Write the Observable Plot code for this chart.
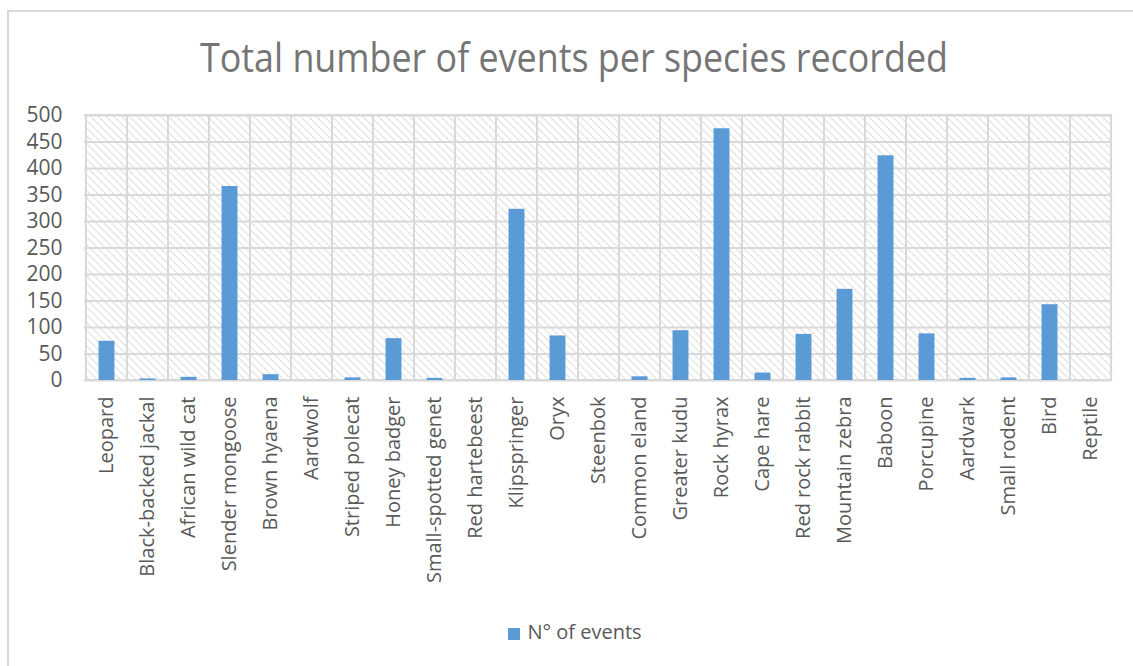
<!DOCTYPE html>
<html>
<head>
<meta charset="utf-8">
<script src="https://cdn.jsdelivr.net/npm/d3@7"></script>
<script src="https://cdn.jsdelivr.net/npm/@observablehq/plot@0.6"></script>
<style>
  html, body { margin: 0; padding: 0; background: #fff; width: 1133px; height: 666px; overflow: hidden; }
  #frame { position: absolute; left: 7px; top: 10px; width: 1140px; height: 670px; border-left: 2px solid #d9d9d9; border-top: 2px solid #d9d9d9; box-sizing: border-box; }
  #title { position: absolute; left: 0; top: 0; width: 1148px; height: 95px; text-align: center; font-family: "Open Sans", sans-serif; font-size: 40px; color: #757575; line-height: 1; }
  #title span { display: inline-block; position: absolute; top: 37px; left: 574px; white-space: nowrap; transform-origin: 0 0; }
  #chart { position: absolute; left: 0; top: 95px; }
  #legend { position: absolute; top: 618px; left: 0; width: 1150px; text-align: center; font-family: "Open Sans", sans-serif; font-size: 20px; color: #595959; }
  #legend .sw { display: inline-block; width: 12px; height: 12px; background: #5B9BD5; margin-right: 7px; vertical-align: -1px; }
</style>
</head>
<body>
<div id="frame"></div>
<div id="title"><span id="tspan">Total number of events per species recorded</span></div>
<div id="chart"></div>
<div id="legend"><span class="sw"></span>N° of events</div>
<script>
const species = ["Leopard","Black-backed jackal","African wild cat","Slender mongoose","Brown hyaena","Aardwolf","Striped polecat","Honey badger","Small-spotted genet","Red hartebeest","Klipspringer","Oryx","Steenbok","Common eland","Greater kudu","Rock hyrax","Cape hare","Red rock rabbit","Mountain zebra","Baboon","Porcupine","Aardvark","Small rodent","Bird","Reptile"];
const events = [74, 3, 6, 366, 11, 0, 5, 79, 4, 0, 323, 84, 0, 7, 94, 475, 14, 87, 172, 424, 88, 4, 5, 143, 0];
const yTicks = [0, 50, 100, 150, 200, 250, 300, 350, 400, 450, 500];

const data = species.map((s, i) => ({species: s, events: events[i]}));

const W = 1133, H = 520, ML = 84, MR = 21, MT = 20, MB = 235;
const step = (W - ML - MR) / species.length;
const inset = step * 0.305;
const grid = "#d9d9d9";
const textColor = "#595959";

const svg = Plot.plot({
  width: W,
  height: H,
  marginLeft: ML,
  marginRight: MR,
  marginTop: MT,
  marginBottom: MB,
  style: {fontFamily: "'Open Sans', sans-serif", color: textColor, background: "transparent", overflow: "visible"},
  x: {type: "band", domain: species, padding: 0},
  y: {domain: [0, 500]},
  marks: [
    Plot.frame({fill: "url(#hatch)", stroke: null}),
    Plot.ruleY(yTicks, {stroke: grid, strokeWidth: 2}),
    Plot.barY(species, {x: d => d, y1: 0, y2: 500, fill: "none", stroke: grid, strokeWidth: 2}),
    Plot.barY(data, {x: "species", y: "events", fill: "#5B9BD5", insetLeft: inset, insetRight: inset}),
    Plot.axisY({ticks: yTicks, tickSize: 0, tickPadding: 22, fontSize: 21, label: null, fill: textColor}),
    Plot.axisX({tickSize: 0, tickPadding: 16, tickRotate: -90, fontSize: 20, label: null, fill: textColor})
  ]
});

const defs = d3.select(svg).insert("defs", ":first-child");
const pat = defs.append("pattern")
  .attr("id", "hatch")
  .attr("patternUnits", "userSpaceOnUse")
  .attr("width", 5.5).attr("height", 5.5)
  .attr("patternTransform", "rotate(45)");
pat.append("rect").attr("width", 5.5).attr("height", 5.5).attr("fill", "#ffffff");
pat.append("line").attr("x1", 0).attr("y1", 0).attr("x2", 5.5).attr("y2", 0)
  .attr("stroke", "#d0d0d0").attr("stroke-width", 2.2).attr("stroke-dasharray", "1.2 0.8");

document.getElementById("chart").appendChild(svg);

// fit the title to the reference width, centred
const t = document.getElementById("tspan");
const tw = t.getBoundingClientRect().width;
const target = 748;
const sx = target / tw;
t.style.transform = `translateX(${-target / 2}px) scaleX(${sx})`;
</script>
</body>
</html>
